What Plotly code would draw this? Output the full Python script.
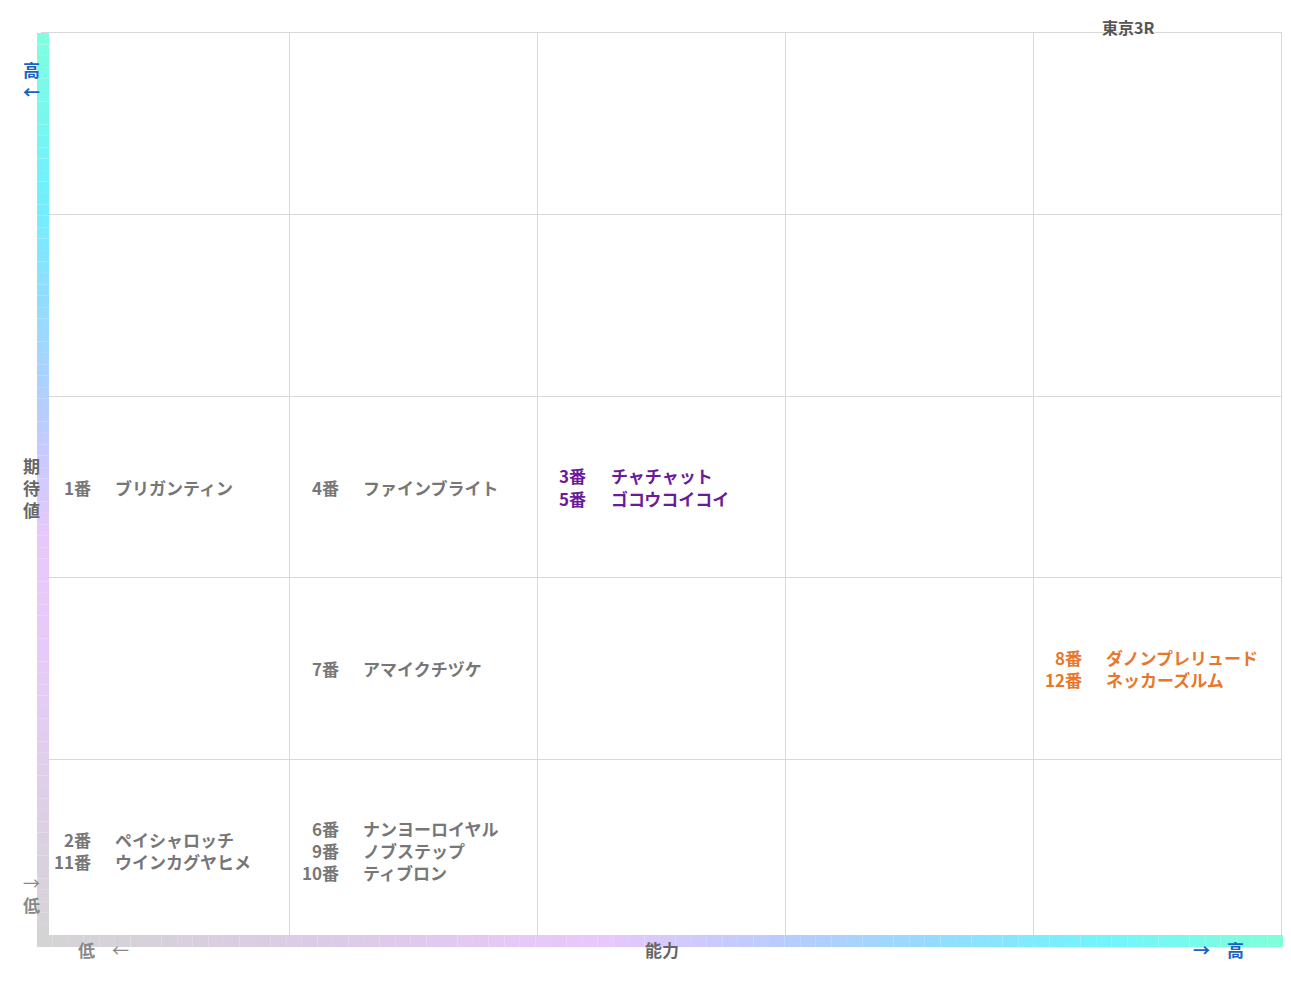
import plotly.graph_objects as go

title = "東京3R"
x_label = "能力"
y_label = "期待値"

# (ability column, expectation row, number, name, color)
cols = [0, 1, 2, 2, 1, 4, 4, 0, 0, 1, 1, 1]
rows = [2, 2, 2, 2, 1, 1, 1, 0, 0, 0, 0, 0]
nums = ["1番", "4番", "3番", "5番", "7番", "8番", "12番", "2番", "11番", "6番", "9番", "10番"]
names = ["ブリガンティン", "ファインブライト", "チャチャット", "ゴコウコイコイ", "アマイクチヅケ",
         "ダノンプレリュード", "ネッカーズルム", "ペイシャロッチ", "ウインカグヤヒメ",
         "ナンヨーロイヤル", "ノブステップ", "ティブロン"]
colors = ["#777777", "#777777", "#6a1b9a", "#6a1b9a", "#777777", "#e8772a", "#e8772a",
          "#777777", "#777777", "#777777", "#777777", "#777777"]

FONT = "Noto Sans CJK JP"
BLUE = "#1565c0"
GRAY = "#888888"


def hex_rgb(h):
    return tuple(int(h[i:i + 2], 16) for i in (1, 3, 5))


def interp(stops, t):
    for (p0, c0), (p1, c1) in zip(stops, stops[1:]):
        if p0 <= t <= p1:
            f = (t - p0) / (p1 - p0) if p1 > p0 else 0
            a, b = hex_rgb(c0), hex_rgb(c1)
            return "rgb(%d,%d,%d)" % tuple(round(a[i] + (b[i] - a[i]) * f) for i in range(3))
    return stops[-1][1]


v_stops = [(0, "#d4d4d4"), (0.3, "#e6cbf8"), (0.45, "#e8c8fb"), (0.58, "#b8ccff"),
           (0.7, "#94dcff"), (0.82, "#70f0ff"), (1, "#80ffe0")]
h_stops = [(0, "#d4d4d4"), (0.25, "#dccbe8"), (0.45, "#e8c8fb"), (0.6, "#b8ccff"),
           (0.72, "#94dcff"), (0.85, "#72f4ff"), (1, "#80ffd8")]

fig = go.Figure()
fig.add_trace(go.Scatter(x=[0, 5], y=[0, 5], mode="markers", marker=dict(opacity=0),
                         hoverinfo="skip", showlegend=False))

# group entries per cell to stack lines
cells = {}
for c, r, n, nm, col in zip(cols, rows, nums, names, colors):
    cells.setdefault((c, r), []).append((n, nm, col))

for (c, r), items in cells.items():
    k = len(items)
    for i, (n, nm, col) in enumerate(items):
        y = r + 0.5 + ((k - 1) / 2 - i) * 0.122
        fig.add_annotation(x=c + 0.205, y=y, text="<b>%s</b>" % n, showarrow=False,
                           xanchor="right", font=dict(family=FONT, size=17, color=col))
        fig.add_annotation(x=c + 0.287, y=y, text="<b>%s</b>" % nm, showarrow=False,
                           xanchor="left", font=dict(family=FONT, size=17, color=col))

# gradient axis bars
W, H = 1239, 908
N = 80
shapes = []
for i in range(N):
    t0, t1 = i / N, (i + 1) / N
    shapes.append(dict(type="rect", xref="paper", yref="paper", layer="above",
                       x0=-5 / W, x1=7 / W, y0=-6 / H + t0 * (H + 6) / H, y1=-6 / H + t1 * (H + 6) / H,
                       line_width=0, fillcolor=interp(v_stops, (t0 + t1) / 2)))
    shapes.append(dict(type="rect", xref="paper", yref="paper", layer="above",
                       x0=-5 / W + t0 * (W + 7) / W, x1=-5 / W + t1 * (W + 7) / W, y0=-6 / H, y1=6 / H,
                       line_width=0, fillcolor=interp(h_stops, (t0 + t1) / 2)))

ann = [
    dict(x=0.899, y=1.0, yshift=20, text="<b>%s</b>" % title, font=dict(size=16, color="#555555")),
    dict(x=0.5, y=0, yshift=-23, text="<b>%s</b>" % x_label, font=dict(size=17, color="#666666")),
    dict(x=0, y=0.5, xshift=-21, text="<b>期<br>待<br>値</b>", font=dict(size=17, color="#666666")),
    dict(x=0, y=1.0, xshift=-21, yshift=-22, text="<b>高<br>←</b>", font=dict(size=17, color=BLUE)),
    dict(x=0, y=0, xshift=-21, yshift=22, text="→<br><b>低</b>", font=dict(size=17, color=GRAY)),
    dict(x=0, y=0, xshift=34, yshift=-23, text="<b>低</b>　←", font=dict(size=17, color=GRAY)),
    dict(x=1, y=0, xshift=-35, yshift=-23, text="<b>→　高</b>", font=dict(size=17, color=BLUE)),
]
for a in ann:
    a.update(xref="paper", yref="paper", showarrow=False)
    a["font"]["family"] = FONT
    fig.add_annotation(**a)

fig.update_layout(
    width=1291, height=983,
    margin=dict(l=34, r=18, t=25, b=50),
    paper_bgcolor="white", plot_bgcolor="white",
    shapes=shapes,
    xaxis=dict(range=[0, 5], dtick=1, tick0=0, showticklabels=False, gridcolor="#d8d8d8",
               zeroline=False, showline=True, linecolor="#d8d8d8", mirror=True, fixedrange=True),
    yaxis=dict(range=[0, 5], dtick=1, tick0=0, showticklabels=False, gridcolor="#d8d8d8",
               zeroline=False, showline=True, linecolor="#d8d8d8", mirror=True, fixedrange=True),
)

fig.write_html("out.html")
